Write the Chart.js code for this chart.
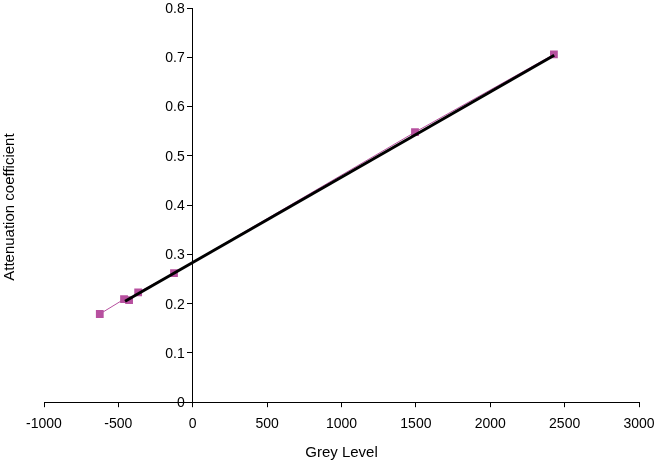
<!DOCTYPE html>
<html>
<head>
<meta charset="utf-8">
<script src="https://cdn.jsdelivr.net/npm/chart.js@4/dist/chart.umd.min.js"></script>
<style>
  html, body { margin: 0; padding: 0; background: #fff; }
  #wrap { width: 656px; height: 462px; }
</style>
</head>
<body>
<div id="wrap"><canvas id="chart"></canvas></div>
<script>
// measured points (grey level vs attenuation coefficient)
const greyLevel = [-625, -462, -428, -367, -126, 1494, 2428];
const attenuation = [0.179, 0.209, 0.207, 0.223, 0.262, 0.548, 0.706];

// linear fit, endpoints
const trendX = [-455, 2430];
const trendY = [0.205, 0.704];

const xTicks = [-1000, -500, 0, 500, 1000, 1500, 2000, 2500, 3000];
const yTicks = [0, 0.1, 0.2, 0.3, 0.4, 0.5, 0.6, 0.7, 0.8];

const FONT = "'Liberation Sans', Arial, sans-serif";

// y title at the left edge and y tick labels next to the axis that sits at x = 0
const extras = {
  id: "extras",
  afterDraw(chart) {
    const ctx = chart.ctx;
    const area = chart.chartArea;
    const ys = chart.scales.y;
    const x0 = chart.scales.x.getPixelForValue(0);
    ctx.save();
    ctx.font = "14px " + FONT;
    ctx.fillStyle = "#000";
    ctx.textAlign = "right";
    ctx.textBaseline = "middle";
    yTicks.forEach(v => {
      ctx.fillText(String(v), x0 - 8, ys.getPixelForValue(v) + 1);
    });
    ctx.font = "15px " + FONT;
    ctx.translate(10, (area.top + area.bottom) / 2 + 2);
    ctx.rotate(-Math.PI / 2);
    ctx.textAlign = "center";
    ctx.fillText("Attenuation coefficient", 0, 0);
    ctx.restore();
  }
};

new Chart(document.getElementById("chart"), {
  type: "scatter",
  data: {
    datasets: [
      {
        label: "fit",
        data: trendX.map((x, i) => ({ x: x, y: trendY[i] })),
        showLine: true,
        borderColor: "#000",
        borderWidth: 3,
        pointRadius: 0,
        order: 0
      },
      {
        label: "measured",
        data: greyLevel.map((x, i) => ({ x: x, y: attenuation[i] })),
        showLine: true,
        borderColor: "#b7509f",
        borderWidth: 1,
        backgroundColor: "#b7509f",
        pointStyle: "rect",
        pointRadius: 5.5,
        pointBorderWidth: 0,
        order: 1
      }
    ]
  },
  options: {
    responsive: true,
    maintainAspectRatio: false,
    animation: false,
    layout: { padding: { left: 44, right: 17, top: 8, bottom: 0 } },
    plugins: {
      legend: { display: false },
      tooltip: { enabled: false }
    },
    scales: {
      x: {
        type: "linear",
        min: -1000,
        max: 3000,
        afterBuildTicks: s => { s.ticks = xTicks.map(v => ({ value: v })); },
        // end labels fit inside the layout padding already
        afterFit: s => { s.paddingLeft = 0; s.paddingRight = 0; },
        grid: { drawOnChartArea: false, color: "#000", tickLength: 5 },
        border: { color: "#000", width: 1 },
        ticks: {
          color: "#000",
          font: { family: FONT, size: 14 },
          padding: 8.5,
          callback: v => String(v)
        },
        title: {
          display: true,
          text: "Grey Level",
          color: "#000",
          font: { family: FONT, size: 15 },
          padding: { top: 3, bottom: 0 }
        }
      },
      y: {
        type: "linear",
        min: 0,
        max: 0.8,
        position: { x: 0 },
        afterBuildTicks: s => { s.ticks = yTicks.map(v => ({ value: v })); },
        grid: { drawOnChartArea: false, color: "#000", tickLength: 5 },
        border: { color: "#000", width: 1 },
        ticks: { display: false }
      }
    }
  },
  plugins: [extras]
});
</script>
</body>
</html>
